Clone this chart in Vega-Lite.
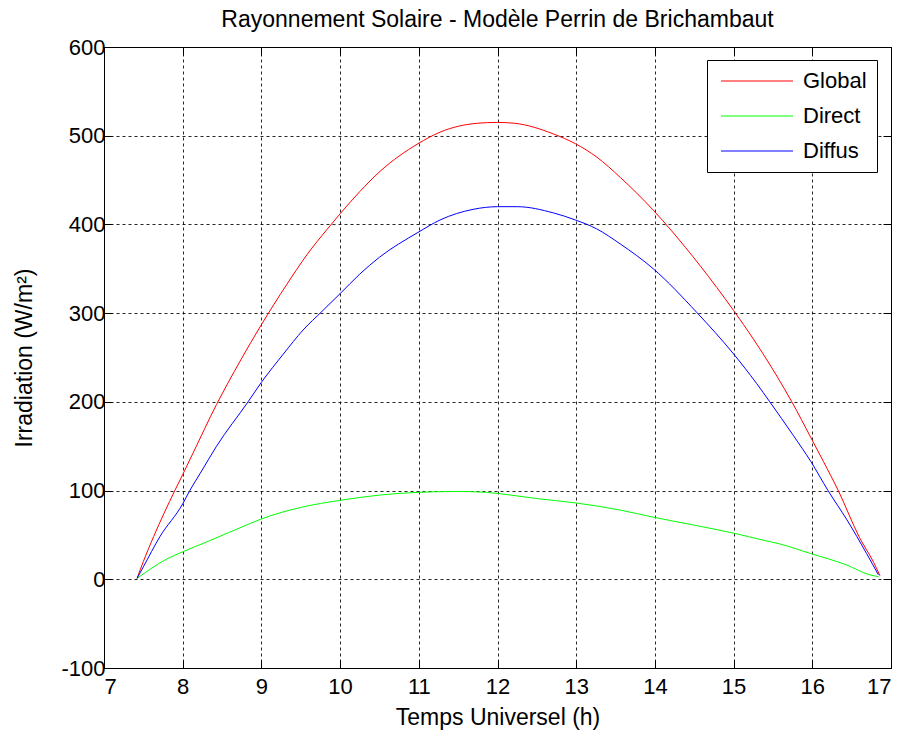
{
  "$schema": "https://vega.github.io/schema/vega-lite/v6.json",
  "width": 787,
  "height": 621,
  "autosize": {"type": "none"},
  "padding": {"left": 104, "top": 47, "right": 13, "bottom": 70},
  "background": "white",
  "title": {"text": "Rayonnement Solaire - Modèle Perrin de Brichambaut", "font": "Liberation Sans", "fontSize": 23, "fontWeight": "normal", "color": "black", "anchor": "middle", "offset": 4},
  "config": {
    "view": {"stroke": "black", "strokeWidth": 1, "fill": "white"},
    "axis": {
      "domainColor": "black", "domainWidth": 1,
      "tickColor": "black", "tickWidth": 1, "tickSize": -8,
      "labelFont": "Liberation Sans", "labelFontSize": 22, "labelColor": "black",
      "titleFont": "Liberation Sans", "titleFontSize": 23, "titleFontWeight": "normal", "titleColor": "black",
      "gridColor": "black", "gridOpacity": 0.85, "gridDash": [3, 3], "gridWidth": 1
    },
    "legend": {"labelFont": "Liberation Sans", "labelFontSize": 22, "labelColor": "black"}
  },
  "datasets": {
    "irr": [
      {"t": 7.42, "v": 1, "serie": "Global"}, {"t": 7.5, "v": 20, "serie": "Global"}, {"t": 7.63, "v": 48, "serie": "Global"}, {"t": 7.9, "v": 100, "serie": "Global"}, {"t": 8.0, "v": 118, "serie": "Global"}, {"t": 8.13, "v": 142, "serie": "Global"}, {"t": 8.43, "v": 197, "serie": "Global"}, {"t": 8.73, "v": 246, "serie": "Global"}, {"t": 9.0, "v": 287, "serie": "Global"}, {"t": 9.32, "v": 332, "serie": "Global"}, {"t": 9.58, "v": 366, "serie": "Global"}, {"t": 9.83, "v": 394, "serie": "Global"}, {"t": 10.0, "v": 412, "serie": "Global"}, {"t": 10.25, "v": 437, "serie": "Global"}, {"t": 10.51, "v": 460, "serie": "Global"}, {"t": 10.99, "v": 491, "serie": "Global"}, {"t": 11.27, "v": 504, "serie": "Global"}, {"t": 11.74, "v": 514, "serie": "Global"}, {"t": 12.0, "v": 515, "serie": "Global"}, {"t": 12.22, "v": 514, "serie": "Global"}, {"t": 12.71, "v": 502, "serie": "Global"}, {"t": 12.99, "v": 491, "serie": "Global"}, {"t": 13.26, "v": 476, "serie": "Global"}, {"t": 13.56, "v": 453, "serie": "Global"}, {"t": 13.98, "v": 416, "serie": "Global"}, {"t": 14.21, "v": 393, "serie": "Global"}, {"t": 14.57, "v": 354, "serie": "Global"}, {"t": 15.0, "v": 303, "serie": "Global"}, {"t": 15.25, "v": 271, "serie": "Global"}, {"t": 15.55, "v": 229, "serie": "Global"}, {"t": 15.74, "v": 200, "serie": "Global"}, {"t": 15.98, "v": 160, "serie": "Global"}, {"t": 16.14, "v": 133, "serie": "Global"}, {"t": 16.33, "v": 100, "serie": "Global"}, {"t": 16.6, "v": 47, "serie": "Global"}, {"t": 16.78, "v": 19, "serie": "Global"}, {"t": 16.86, "v": 4, "serie": "Global"},
      {"t": 7.42, "v": 1, "serie": "Direct"}, {"t": 7.8, "v": 23, "serie": "Direct"}, {"t": 8.0, "v": 31, "serie": "Direct"}, {"t": 8.33, "v": 43, "serie": "Direct"}, {"t": 8.86, "v": 63, "serie": "Direct"}, {"t": 9.0, "v": 68, "serie": "Direct"}, {"t": 9.5, "v": 81, "serie": "Direct"}, {"t": 10.0, "v": 89, "serie": "Direct"}, {"t": 10.51, "v": 95, "serie": "Direct"}, {"t": 10.99, "v": 98, "serie": "Direct"}, {"t": 11.5, "v": 99, "serie": "Direct"}, {"t": 11.86, "v": 98, "serie": "Direct"}, {"t": 12.16, "v": 95, "serie": "Direct"}, {"t": 12.5, "v": 91, "serie": "Direct"}, {"t": 13.0, "v": 86, "serie": "Direct"}, {"t": 13.56, "v": 78, "serie": "Direct"}, {"t": 13.98, "v": 70, "serie": "Direct"}, {"t": 14.5, "v": 61, "serie": "Direct"}, {"t": 15.0, "v": 52, "serie": "Direct"}, {"t": 15.38, "v": 44, "serie": "Direct"}, {"t": 15.58, "v": 40, "serie": "Direct"}, {"t": 15.98, "v": 29, "serie": "Direct"}, {"t": 16.44, "v": 16, "serie": "Direct"}, {"t": 16.73, "v": 5, "serie": "Direct"}, {"t": 16.84, "v": 3, "serie": "Direct"},
      {"t": 7.42, "v": 1, "serie": "Diffus"}, {"t": 7.5, "v": 14, "serie": "Diffus"}, {"t": 7.71, "v": 48, "serie": "Diffus"}, {"t": 8.0, "v": 85, "serie": "Diffus"}, {"t": 8.09, "v": 100, "serie": "Diffus"}, {"t": 8.22, "v": 119, "serie": "Diffus"}, {"t": 8.43, "v": 150, "serie": "Diffus"}, {"t": 8.83, "v": 200, "serie": "Diffus"}, {"t": 9.0, "v": 222, "serie": "Diffus"}, {"t": 9.28, "v": 254, "serie": "Diffus"}, {"t": 9.53, "v": 281, "serie": "Diffus"}, {"t": 9.77, "v": 302, "serie": "Diffus"}, {"t": 10.0, "v": 322, "serie": "Diffus"}, {"t": 10.25, "v": 344, "serie": "Diffus"}, {"t": 10.5, "v": 363, "serie": "Diffus"}, {"t": 10.99, "v": 391, "serie": "Diffus"}, {"t": 11.27, "v": 405, "serie": "Diffus"}, {"t": 11.69, "v": 417, "serie": "Diffus"}, {"t": 12.0, "v": 420, "serie": "Diffus"}, {"t": 12.25, "v": 420, "serie": "Diffus"}, {"t": 12.71, "v": 413, "serie": "Diffus"}, {"t": 12.99, "v": 405, "serie": "Diffus"}, {"t": 13.26, "v": 395, "serie": "Diffus"}, {"t": 13.56, "v": 378, "serie": "Diffus"}, {"t": 13.98, "v": 350, "serie": "Diffus"}, {"t": 14.53, "v": 301, "serie": "Diffus"}, {"t": 15.0, "v": 254, "serie": "Diffus"}, {"t": 15.29, "v": 221, "serie": "Diffus"}, {"t": 15.46, "v": 200, "serie": "Diffus"}, {"t": 15.76, "v": 162, "serie": "Diffus"}, {"t": 15.98, "v": 133, "serie": "Diffus"}, {"t": 16.2, "v": 100, "serie": "Diffus"}, {"t": 16.44, "v": 67, "serie": "Diffus"}, {"t": 16.69, "v": 29, "serie": "Diffus"}, {"t": 16.84, "v": 5, "serie": "Diffus"}
    ]
  },
  "data": {"name": "irr"},
  "layer": [
    {
      "mark": {"type": "line", "strokeWidth": 1, "interpolate": "monotone"},
      "encoding": {
        "x": {"field": "t", "type": "quantitative", "scale": {"domain": [7, 17], "nice": false, "zero": false},
              "axis": {"orient": "bottom", "values": [7, 8, 9, 10, 11, 12, 13, 14, 15, 16, 17], "grid": true, "title": "Temps Universel (h)", "labelPadding": 16, "titlePadding": 9, "labelExpr": "'' + datum.value"}},
        "y": {"field": "v", "type": "quantitative", "scale": {"domain": [-100, 600], "nice": false, "zero": false},
              "axis": {"orient": "left", "values": [-100, 0, 100, 200, 300, 400, 500, 600], "grid": true, "title": "Irradiation (W/m²)", "labelPadding": 7, "titlePadding": 24, "labelExpr": "'' + datum.value"}},
        "color": {"field": "serie", "type": "nominal",
                  "scale": {"domain": ["Global", "Direct", "Diffus"], "range": ["#ff0000", "#00ff00", "#0000ff"]},
                  "legend": {"title": null, "orient": "none", "legendX": 603, "legendY": 13, "symbolType": "M-1.75,0H16.25", "symbolSize": 64, "symbolStrokeWidth": 1, "labelOffset": 64, "rowPadding": 13, "padding": 10, "fillColor": "white", "strokeColor": "black"}}
      }
    },
    {
      "mark": {"type": "point", "opacity": 0},
      "encoding": {
        "x": {"field": "t", "type": "quantitative", "axis": {"orient": "top", "values": [7, 8, 9, 10, 11, 12, 13, 14, 15, 16, 17], "labels": false, "grid": false, "title": null, "domain": false}},
        "y": {"field": "v", "type": "quantitative", "axis": {"orient": "right", "values": [-100, 0, 100, 200, 300, 400, 500, 600], "labels": false, "grid": false, "title": null, "domain": false}}
      }
    }
  ],
  "resolve": {"axis": {"x": "independent", "y": "independent"}}
}
